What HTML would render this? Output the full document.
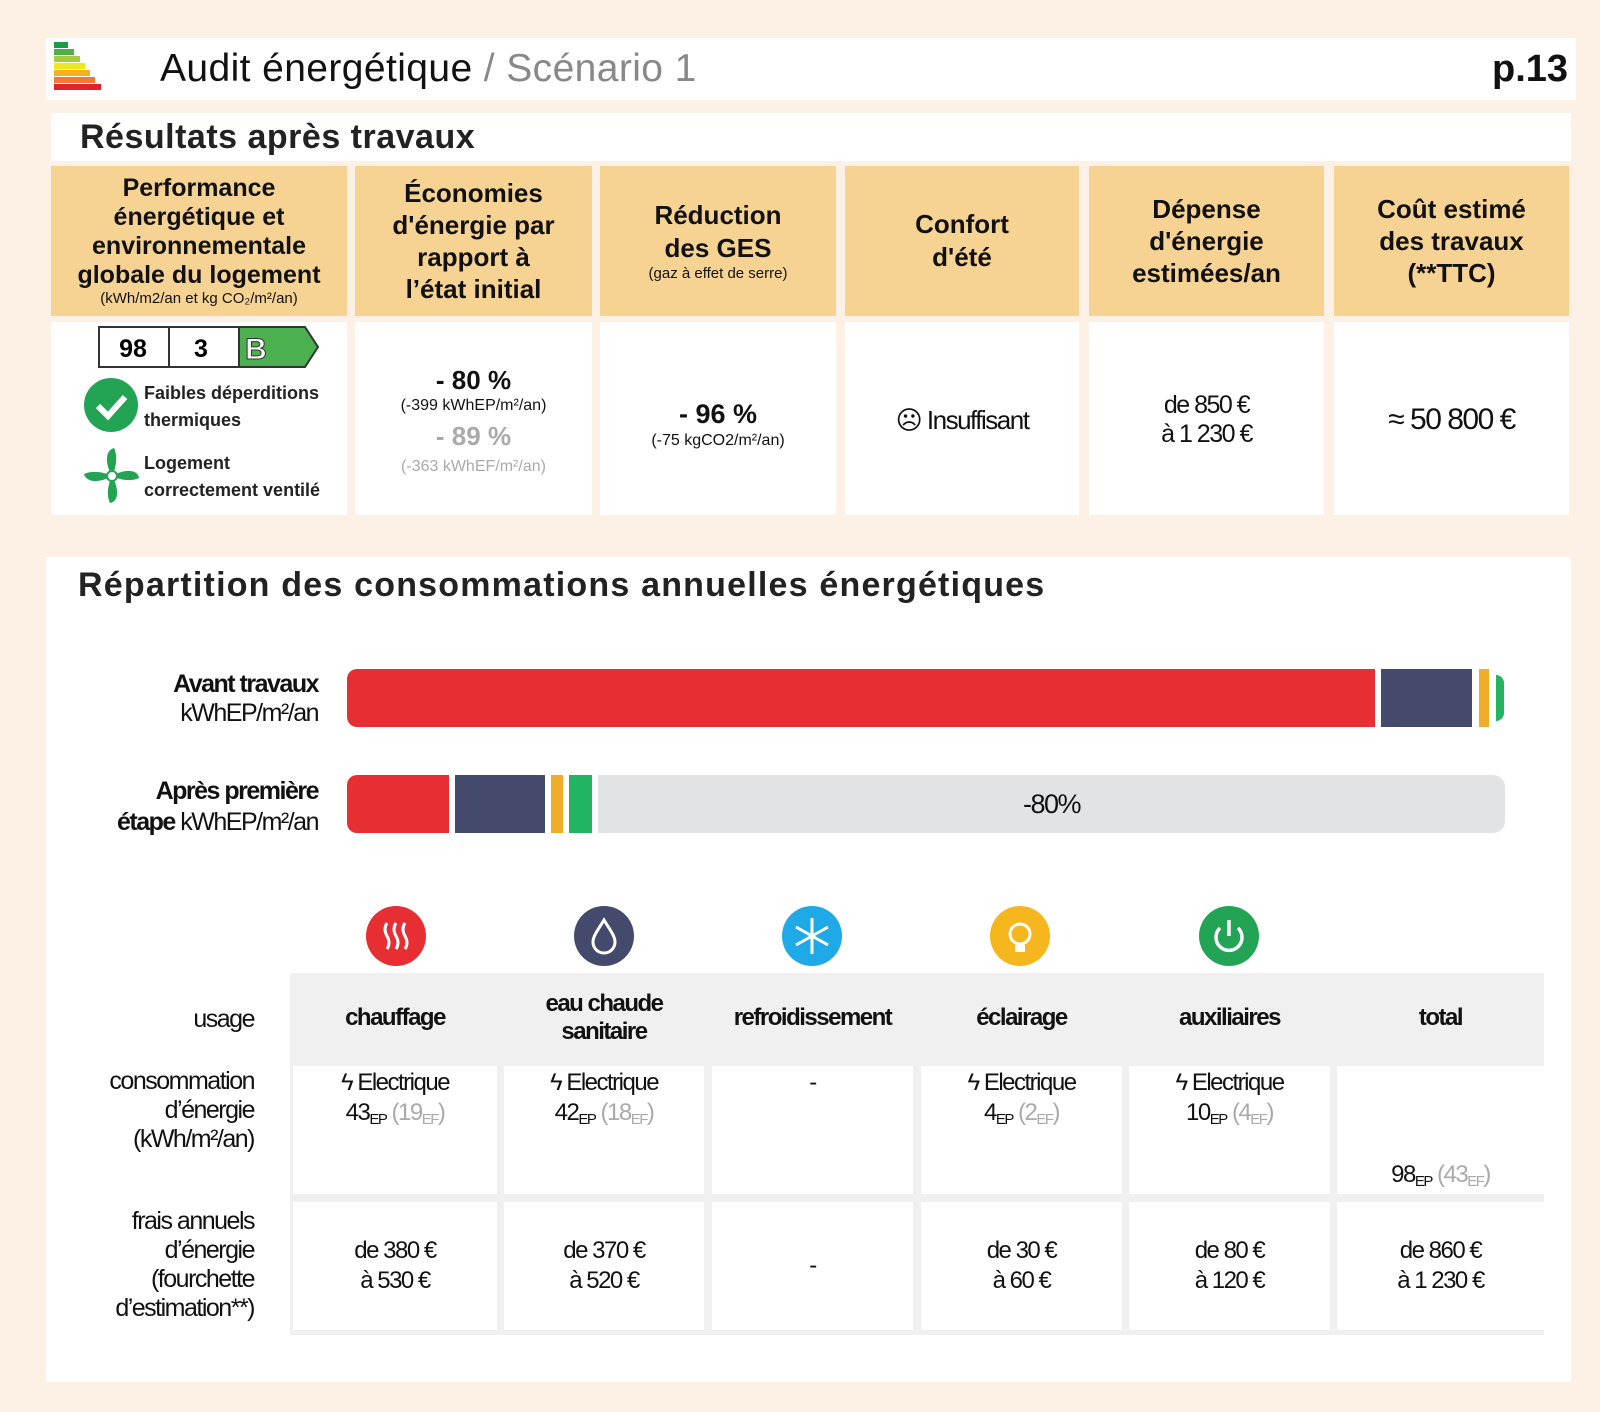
<!DOCTYPE html>
<html><head><meta charset="utf-8"><style>
*{margin:0;padding:0;box-sizing:border-box}
body{width:1600px;height:1412px;background:#fdf0e4;font-family:"Liberation Sans",sans-serif;position:relative;overflow:hidden;color:#111}
.a{position:absolute}
.c{position:absolute;display:flex;flex-direction:column;align-items:center;justify-content:center;text-align:center}
.hd{background:#f6d393;font-weight:bold;font-size:25px;line-height:31px}
.wb{background:#fff}
.n{letter-spacing:-1.5px}
.g{color:#aaa}
.th{background:#f0f0f0;font-weight:bold;font-size:24px;line-height:28px}
.td{background:#fff;font-size:24px;line-height:30px}
sub{font-size:15px;vertical-align:-4px}
</style></head><body>
<div class="a wb" style="left:46px;top:38px;width:1530px;height:62px"></div>
<svg class="a" style="left:54px;top:42px" width="52" height="52">
<rect x="0" y="0" width="14" height="6" fill="#1a9b4b"/><rect x="0" y="7" width="20" height="6" fill="#4fb048"/><rect x="0" y="14" width="26" height="6" fill="#a6cc3c"/><rect x="0" y="21" width="31" height="6" fill="#f2e51c"/><rect x="0" y="28" width="36" height="6" fill="#f5b121"/><rect x="0" y="35" width="41" height="6" fill="#ee7b2f"/><rect x="0" y="42" width="47" height="6" fill="#e2232a"/></svg>
<div class="a" style="left:160px;top:46px;font-size:39px;line-height:46px;letter-spacing:0.4px">Audit énergétique <span style="color:#888">/ Scénario 1</span></div>
<div class="a" style="left:1492px;top:46px;font-size:38px;line-height:46px;font-weight:bold">p.13</div>
<div class="a wb" style="left:51px;top:113px;width:1520px;height:48px"></div>
<div class="a" style="left:80px;top:116px;font-size:34px;font-weight:bold;line-height:42px;color:#222;letter-spacing:0.5px">Résultats après travaux</div>
<div class="c hd" style="left:51px;top:166px;width:296px;height:150px;line-height:29px">Performance<br>énergétique et<br>environnementale<br>globale du logement<span style="font-size:15px;font-weight:normal;line-height:18px">(kWh/m2/an et kg CO₂/m²/an)</span></div>
<div class="c hd" style="left:355px;top:166px;width:237px;height:150px;font-size:26px;line-height:32px">Économies<br>d'énergie par<br>rapport à<br>l’état initial</div>
<div class="c hd" style="left:600px;top:166px;width:236px;height:150px;font-size:26px;line-height:33px">Réduction<br>des GES<span style="font-size:15px;font-weight:normal;line-height:18px">(gaz à effet de serre)</span></div>
<div class="c hd" style="left:845px;top:166px;width:234px;height:150px;font-size:26px;line-height:33px">Confort<br>d'été</div>
<div class="c hd" style="left:1089px;top:166px;width:235px;height:150px;font-size:26px;line-height:32px">Dépense<br>d'énergie<br>estimées/an</div>
<div class="c hd" style="left:1334px;top:166px;width:235px;height:150px;font-size:26px;line-height:32px">Coût estimé<br>des travaux<br>(**TTC)</div>
<div class="a wb" style="left:51px;top:322px;width:296px;height:193px"></div>
<div class="a wb" style="left:355px;top:322px;width:237px;height:193px"></div>
<div class="a wb" style="left:600px;top:322px;width:236px;height:193px"></div>
<div class="a wb" style="left:845px;top:322px;width:234px;height:193px"></div>
<div class="a wb" style="left:1089px;top:322px;width:235px;height:193px"></div>
<div class="a wb" style="left:1334px;top:322px;width:235px;height:193px"></div>
<svg class="a" style="left:98px;top:326px" width="222" height="44"><rect x="1" y="1" width="160" height="40" fill="#fff" stroke="#333" stroke-width="2"/><line x1="71" y1="2" x2="71" y2="40" stroke="#333" stroke-width="2"/><polygon points="141,1 207,1 220,21 207,41 141,41" fill="#4caf50" stroke="#333" stroke-width="2"/>
<text x="35" y="31" font-family="Liberation Sans" font-weight="bold" font-size="25" text-anchor="middle">98</text><text x="103" y="31" font-family="Liberation Sans" font-weight="bold" font-size="25" text-anchor="middle">3</text><text x="158" y="33" font-family="Liberation Sans" font-weight="bold" font-size="30" fill="#fff" stroke="#333" stroke-width="1" text-anchor="middle">B</text></svg>
<svg class="a" style="left:84px;top:378px" width="56" height="56"><circle cx="27" cy="27" r="27" fill="#22a454"/><polyline points="14,28 24,38 41,19" fill="none" stroke="#fff" stroke-width="6"/></svg>
<div class="a" style="left:144px;top:380px;font-size:18px;font-weight:bold;line-height:27px;color:#222">Faibles déperditions<br>thermiques</div>
<svg class="a" style="left:84px;top:448px" width="56" height="56"><g fill="#22a454"><path d="M28 28 C20 14 22 2 30 0 C34 8 32 20 28 28Z"/><path d="M28 28 C42 20 54 22 55 30 C47 34 36 32 28 28Z"/><path d="M28 28 C36 42 34 54 26 55 C22 47 24 36 28 28Z"/><path d="M28 28 C14 36 2 34 0 26 C8 22 20 24 28 28Z"/></g><circle cx="28" cy="28" r="5" fill="#fff" stroke="#22a454" stroke-width="2"/></svg>
<div class="a" style="left:144px;top:450px;font-size:18px;font-weight:bold;line-height:27px;color:#222">Logement<br>correctement ventilé</div>
<div class="c" style="left:355px;top:355px;width:237px;height:130px;font-size:16px;line-height:19px"><b style="font-size:26px;line-height:32px">- 80 %</b>(-399 kWhEP/m²/an)<b class="g" style="font-size:26px;line-height:42px">- 89 %</b><span class="g">(-363 kWhEF/m²/an)</span></div>
<div class="c" style="left:600px;top:390px;width:236px;height:70px;font-size:16px;line-height:22px"><b style="font-size:27px;line-height:32px">- 96 %</b>(-75 kgCO2/m²/an)</div>
<div class="c n" style="left:845px;top:400px;width:234px;height:40px;font-size:26px">☹ Insuffisant</div>
<div class="c n" style="left:1089px;top:390px;width:235px;height:60px;font-size:25px;line-height:29px">de 850 €<br>à 1 230 €</div>
<div class="c n" style="left:1334px;top:400px;width:235px;height:40px;font-size:30px">≈ 50 800 €</div>
<div class="a wb" style="left:46px;top:557px;width:1525px;height:825px"></div>
<div class="a" style="left:78px;top:565px;font-size:34px;font-weight:bold;line-height:40px;color:#222;letter-spacing:1.2px">Répartition des consommations annuelles énergétiques</div>
<div class="a n" style="left:80px;top:670px;width:238px;text-align:right;font-size:25px;line-height:29px"><b>Avant travaux</b><br>kWhEP/m²/an</div>
<div class="a n" style="left:80px;top:776px;width:238px;text-align:right;font-size:25px;line-height:31px"><b>Après première<br>étape</b> kWhEP/m²/an</div>
<div class="a" style="left:347px;top:669px;width:1028px;height:58px;background:#e72e32;border-radius:10px 0 0 10px"></div>
<div class="a" style="left:1381px;top:669px;width:91px;height:58px;background:#434a6c"></div>
<div class="a" style="left:1479px;top:669px;width:10px;height:58px;background:#f0ad2a"></div>
<div class="a" style="left:1496px;top:675px;width:8px;height:46px;background:#22b461;border-radius:0 8px 8px 0"></div>
<div class="a" style="left:347px;top:775px;width:102px;height:58px;background:#e72e32;border-radius:10px 0 0 10px"></div>
<div class="a" style="left:455px;top:775px;width:90px;height:58px;background:#434a6c"></div>
<div class="a" style="left:551px;top:775px;width:12px;height:58px;background:#f0ad2a"></div>
<div class="a" style="left:569px;top:775px;width:23px;height:58px;background:#22b461"></div>
<div class="c n" style="left:598px;top:775px;width:907px;height:58px;background:#e2e3e5;border-radius:0 12px 12px 0;font-size:27px">-80%</div>
<svg class="a" style="left:366px;top:906px" width="60" height="60"><circle cx="30" cy="30" r="30" fill="#e72e32"/><g fill="none" stroke="#fff" stroke-width="3"><path d="M21 17 q-4 6 0 13 q4 7 0 13"/><path d="M30 17 q-4 6 0 13 q4 7 0 13"/><path d="M39 17 q-4 6 0 13 q4 7 0 13"/></g></svg>
<svg class="a" style="left:574px;top:906px" width="60" height="60"><circle cx="30" cy="30" r="30" fill="#434a6c"/><path d="M30 14 C24 24 19 30 19 36 a11 11 0 0 0 22 0 C41 30 36 24 30 14Z" fill="none" stroke="#fff" stroke-width="3"/></svg>
<svg class="a" style="left:782px;top:906px" width="60" height="60"><circle cx="30" cy="30" r="30" fill="#1fa9e6"/><g stroke="#fff" stroke-width="3"><line x1="30" y1="12" x2="30" y2="48"/><line x1="14" y1="21" x2="46" y2="39"/><line x1="14" y1="39" x2="46" y2="21"/></g></svg>
<svg class="a" style="left:990px;top:906px" width="60" height="60"><circle cx="30" cy="30" r="30" fill="#f5b61e"/><circle cx="30" cy="28" r="10" fill="none" stroke="#fff" stroke-width="3"/><rect x="25" y="39" width="10" height="7" fill="#fff"/></svg>
<svg class="a" style="left:1199px;top:906px" width="60" height="60"><circle cx="30" cy="30" r="30" fill="#22a454"/><path d="M21 22 a13 13 0 1 0 18 0" fill="none" stroke="#fff" stroke-width="3.5"/><line x1="30" y1="14" x2="30" y2="30" stroke="#fff" stroke-width="3.5"/></svg>
<div class="a n" style="left:80px;top:1005px;width:174px;text-align:right;font-size:25px">usage</div>
<div class="a n" style="left:60px;top:1067px;width:194px;text-align:right;font-size:25px;line-height:29px">consommation<br>d’énergie<br>(kWh/m²/an)</div>
<div class="a n" style="left:60px;top:1207px;width:194px;text-align:right;font-size:25px;line-height:29px">frais annuels<br>d’énergie<br>(fourchette<br>d’estimation**)</div>
<div class="a" style="left:290px;top:973px;width:1254px;height:362px;background:#f0f0f0"></div>
<div class="c th n" style="left:293px;top:974px;width:204px;height:87px">chauffage</div>
<div class="c th n" style="left:504px;top:974px;width:200px;height:87px">eau chaude<br>sanitaire</div>
<div class="c th n" style="left:712px;top:974px;width:201px;height:87px">refroidissement</div>
<div class="c th n" style="left:921px;top:974px;width:201px;height:87px">éclairage</div>
<div class="c th n" style="left:1129px;top:974px;width:201px;height:87px">auxiliaires</div>
<div class="c th n" style="left:1337px;top:974px;width:207px;height:87px">total</div>
<div class="a td n" style="left:293px;top:1066px;width:204px;height:128px;text-align:center;padding-top:2px">ϟ Electrique<br>43<sub>EP</sub> <span class="g">(19<sub>EF</sub>)</span></div>
<div class="a td n" style="left:504px;top:1066px;width:200px;height:128px;text-align:center;padding-top:2px">ϟ Electrique<br>42<sub>EP</sub> <span class="g">(18<sub>EF</sub>)</span></div>
<div class="a td n" style="left:712px;top:1066px;width:201px;height:128px;text-align:center;padding-top:2px">-</div>
<div class="a td n" style="left:921px;top:1066px;width:201px;height:128px;text-align:center;padding-top:2px">ϟ Electrique<br>4<sub>EP</sub> <span class="g">(2<sub>EF</sub>)</span></div>
<div class="a td n" style="left:1129px;top:1066px;width:201px;height:128px;text-align:center;padding-top:2px">ϟ Electrique<br>10<sub>EP</sub> <span class="g">(4<sub>EF</sub>)</span></div>
<div class="a td n" style="left:1337px;top:1066px;width:207px;height:128px;text-align:center;padding-top:94px">98<sub>EP</sub> <span class="g">(43<sub>EF</sub>)</span></div>
<div class="c td n" style="left:293px;top:1202px;width:204px;height:128px">de 380 €<br>à 530 €</div>
<div class="c td n" style="left:504px;top:1202px;width:200px;height:128px">de 370 €<br>à 520 €</div>
<div class="c td n" style="left:712px;top:1202px;width:201px;height:128px">-</div>
<div class="c td n" style="left:921px;top:1202px;width:201px;height:128px">de 30 €<br>à 60 €</div>
<div class="c td n" style="left:1129px;top:1202px;width:201px;height:128px">de 80 €<br>à 120 €</div>
<div class="c td n" style="left:1337px;top:1202px;width:207px;height:128px">de 860 €<br>à 1 230 €</div>
</body></html>
